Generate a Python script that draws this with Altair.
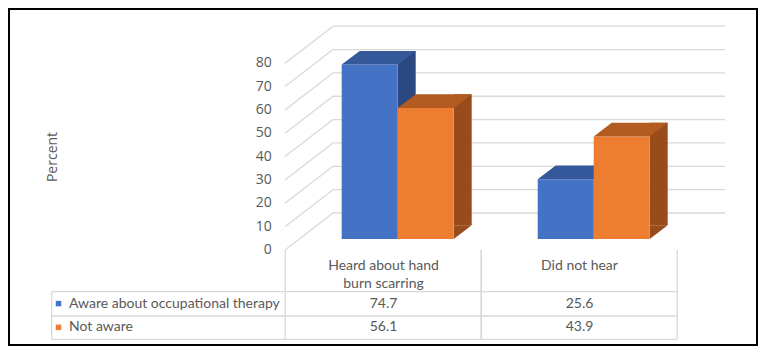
import altair as alt
import pandas as pd

# ---------------- data ----------------
categories = ["Heard about hand burn scarring", "Did not hear"]
header_labels = ["Heard about hand\nburn scarring", "Did not hear"]
series = ["Aware about occupational therapy", "Not aware"]
aware_values = [74.7, 25.6]
not_aware_values = [56.1, 43.9]
y_ticks = [0, 10, 20, 30, 40, 50, 60, 70, 80]
y_title = "Percent"

series_values = [aware_values, not_aware_values]

# ---------------- style ----------------
front_colors = ["#4472C4", "#ED7D31"]
top_colors = ["#34589A", "#B35C22"]
side_colors = ["#2B4980", "#984C1C"]
grid_color = "#D9D9D9"
text_color = "#595959"

W, H = 750, 338
Y0 = 231.0          # pixel of value 0 on the bar front plane
PX = 2.335          # pixels per unit
DX, DY = 18, 13.7   # bar depth
BAR_W = 56

y_scale = alt.Scale(domain=[0, 80], range=[Y0, Y0 - 80 * PX], zero=False, nice=False)
x_scale = alt.Scale(domain=categories, range=[333.7, 641.7],
                    paddingInner=84 / 196, paddingOuter=0)


def X(**kw):
    return alt.X("category:N", scale=x_scale, axis=None, **kw)


def Yv(field="value:Q"):
    return alt.Y(field, scale=y_scale, axis=None)


one = pd.DataFrame({"k": [0]})
ticks_df = pd.DataFrame({"v": y_ticks})

layers = []

# back wall gridlines
layers.append(
    alt.Chart(ticks_df).mark_rule(color=grid_color, strokeWidth=1.3, yOffset=-26).encode(
        y=Yv("v:Q"), x=alt.value(325), x2=alt.value(717),
    )
)
# side wall diagonals
layers.append(
    alt.Chart(ticks_df).mark_rule(color=grid_color, strokeWidth=1.3, yOffset=11, y2Offset=-26).encode(
        y=Yv("v:Q"), y2="v:Q", x=alt.value(277), x2=alt.value(325),
    )
)
# value axis labels (front edge of the side wall)
layers.append(
    alt.Chart(ticks_df).mark_text(align="right", baseline="middle", dy=11, font="Open Sans",
                                  fontSize=14, color=text_color).encode(
        y=Yv("v:Q"), x=alt.value(263.7), text="v:Q")
)
# axis title
layers.append(
    alt.Chart(pd.DataFrame({"t": [y_title]})).mark_text(
        angle=270, align="center", baseline="middle", font="Open Sans", fontSize=14,
        color=text_color).encode(x=alt.value(45), y=alt.value(149), text="t:N")
)

front_off = [-BAR_W / 2, BAR_W / 2]
top_path = f"M{-BAR_W/2},0L{BAR_W/2},0L{BAR_W/2+DX},{-DY}L{-BAR_W/2+DX},{-DY}Z"
tri_path = f"M{BAR_W/2},{-DY}L{BAR_W/2},0L{BAR_W/2+DX},{-DY}Z"

for i, s in enumerate(series):
    df = pd.DataFrame({"category": categories, "value": series_values[i], "series": s})
    side_off = front_off[i] + BAR_W / 2 + DX / 2
    base = alt.Chart(df)
    layers.append(
        base.mark_bar(width=DX, xOffset=side_off, yOffset=-DY, y2Offset=-DY,
                      color=side_colors[i]).encode(x=X(), y=Yv(), y2=alt.datum(0))
    )
    layers.append(
        base.mark_point(shape=tri_path, size=4, filled=True, opacity=1, strokeWidth=0,
                        color=side_colors[i], xOffset=front_off[i]).encode(
            x=X(), y=alt.Y(datum=0, scale=y_scale, axis=None))
    )
    layers.append(
        base.mark_bar(width=BAR_W, xOffset=front_off[i], color=front_colors[i]).encode(
            x=X(), y=Yv())
    )
    layers.append(
        base.mark_point(shape=top_path, size=4, filled=True, opacity=1, strokeWidth=0,
                        color=top_colors[i], xOffset=front_off[i]).encode(x=X(), y=Yv())
    )

# ---------------- data table ----------------
ROW_TOP, ROW_MID, ROW_BOT = 283.7, 308, 331.3
row_y = [295.6, 319.3]
TABLE_LEFT = 43.7
HEADER_TOP = 242
TXT_DX = -14.2

cat_df = pd.DataFrame({"category": categories, "header": header_labels})
layers.append(
    alt.Chart(cat_df).mark_rule(color=grid_color, strokeWidth=1.3, xOffset=-56.5).encode(
        x=X(bandPosition=0), y=alt.value(HEADER_TOP), y2=alt.value(ROW_BOT))
)
layers.append(
    alt.Chart(cat_df).mark_rule(color=grid_color, strokeWidth=1.3, xOffset=27.5).encode(
        x=X(bandPosition=1), y=alt.value(HEADER_TOP), y2=alt.value(ROW_BOT))
)
for yy in [ROW_TOP, ROW_MID, ROW_BOT]:
    layers.append(
        alt.Chart(one).mark_rule(color=grid_color, strokeWidth=1.3).encode(
            x=alt.value(TABLE_LEFT), x2=alt.value(669.2), y=alt.value(yy))
    )
layers.append(
    alt.Chart(one).mark_rule(color=grid_color, strokeWidth=1.3).encode(
        x=alt.value(TABLE_LEFT), y=alt.value(ROW_TOP), y2=alt.value(ROW_BOT))
)
layers.append(
    alt.Chart(cat_df).mark_text(lineBreak="\n", lineHeight=18, dx=TXT_DX, baseline="alphabetic",
                                font="Lato", fontSize=14, color=text_color).encode(
        x=X(), y=alt.value(262), text="header:N")
)
for i, s in enumerate(series):
    df = pd.DataFrame({"category": categories, "value": series_values[i]})
    layers.append(
        alt.Chart(df).mark_text(dx=TXT_DX, baseline="middle", font="Lato", fontSize=14,
                                color=text_color).encode(
            x=X(), y=alt.value(row_y[i]), text=alt.Text("value:Q", format=".1f"))
    )
    sdf = pd.DataFrame({"series": [s]})
    layers.append(
        alt.Chart(sdf).mark_square(size=30, opacity=1, filled=True, color=front_colors[i]).encode(
            x=alt.value(50.5), y=alt.value(row_y[i]))
    )
    layers.append(
        alt.Chart(sdf).mark_text(align="left", baseline="middle", font="Lato", fontSize=14,
                                 color=text_color).encode(
            x=alt.value(61), y=alt.value(row_y[i]), text="series:N")
    )

# outer frame
layers.append(
    alt.Chart(one).mark_rect(filled=False, stroke="black", strokeWidth=2).encode(
        x=alt.value(1), x2=alt.value(W - 1), y=alt.value(1), y2=alt.value(H - 1))
)

chart = alt.layer(*layers).properties(
    width=W, height=H,
    autosize=alt.AutoSizeParams(type="none"),
    padding=0,
    background="white",
).configure_view(strokeWidth=0)

chart.save("out.html", embed_options={"renderer": "svg", "actions": False})
